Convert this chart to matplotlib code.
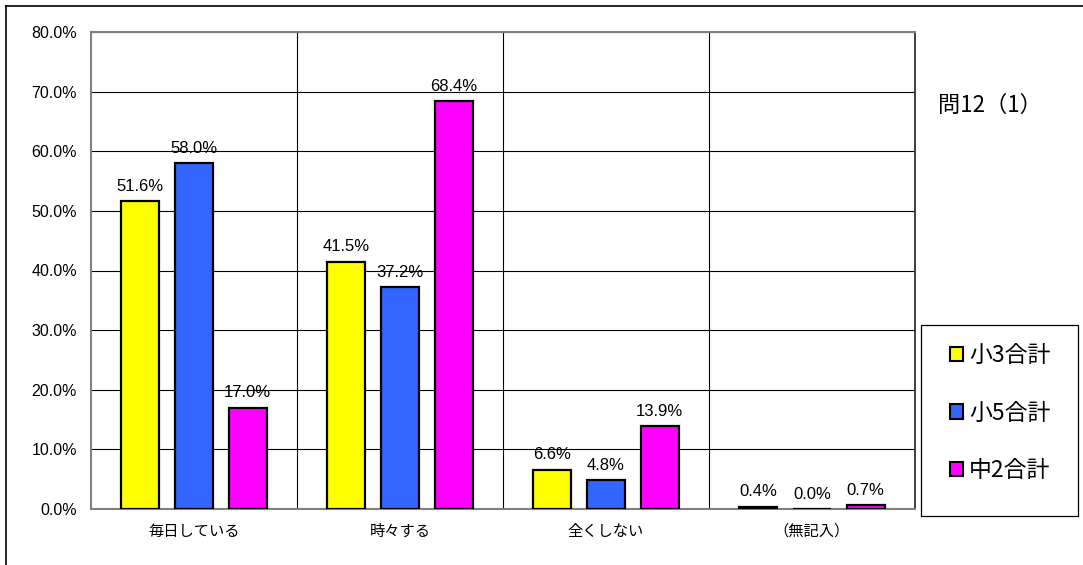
import numpy as np
import matplotlib.pyplot as plt
from matplotlib.patches import Rectangle
from matplotlib.lines import Line2D

plt.rcParams['font.family'] = ['Noto Sans CJK JP', 'DejaVu Sans']

categories = ['毎日している', '時々する', '全くしない', '（無記入）']
series_names = ['小3合計', '小5合計', '中2合計']
values_g3 = [51.6, 41.5, 6.6, 0.4]
values_g5 = [58.0, 37.2, 4.8, 0.0]
values_m2 = [17.0, 68.4, 13.9, 0.7]
colors = ['#ffff00', '#3366ff', '#ff00ff']
y_ticks = [0, 10, 20, 30, 40, 50, 60, 70, 80]

W, H = 1083, 565
fig = plt.figure(figsize=(W / 100, H / 100), dpi=100)
ax = fig.add_axes([91 / W, 56 / H, 824 / W, 477 / H])

x = np.arange(len(categories))
width = 0.185
offsets = [-0.26, 0.0, 0.26]
all_vals = [values_g3, values_g5, values_m2]
num_font = ['Liberation Sans', 'DejaVu Sans']

for vals, off, col, name in zip(all_vals, offsets, colors, series_names):
    ax.bar(x + off, vals, width, color=col, edgecolor='black', linewidth=1.6,
           label=name, zorder=3)
    for xi, v in zip(x + off, vals):
        ax.text(xi, v + 1.2, f'{v:.1f}%', ha='center', va='bottom', fontsize=12,
                family=num_font, zorder=4)

ax.set_xlim(-0.5, 3.5)
ax.set_ylim(0, 80)
ax.set_yticks(y_ticks)
ax.set_yticklabels([f'{t:.1f}%' for t in y_ticks], fontsize=11.5, family=num_font)
ax.set_xticks(x)
ax.set_xticklabels(categories, fontsize=11)
ax.tick_params(axis='y', length=0, pad=10)
ax.tick_params(axis='x', length=0, pad=10)

for t in y_ticks[1:]:
    ax.axhline(t, color='black', linewidth=0.8, zorder=1)
for b in [0.5, 1.5, 2.5]:
    ax.axvline(b, color='black', linewidth=0.8, zorder=1)

for side in ['left', 'bottom', 'top']:
    ax.spines[side].set_color('#808080')
    ax.spines[side].set_linewidth(1.5)
ax.spines['right'].set_color('#303030')
ax.spines['right'].set_linewidth(1.3)

# legend box with fixed frame
fig.patches.append(Rectangle((921 / W, 1 - 516 / H), 157 / W, 191 / H,
                             transform=fig.transFigure, facecolor='white',
                             edgecolor='black', linewidth=0.9))
handles = [Rectangle((0, 0), 1, 1, facecolor=c, edgecolor='black', linewidth=1.5)
           for c in colors]
leg = fig.legend(handles, series_names, loc='center',
                 bbox_to_anchor=(1000 / W, 1 - 413 / H),
                 fontsize=16.5, frameon=False,
                 handlelength=0.6, handleheight=0.6, handletextpad=0.25,
                 labelspacing=1.5, borderaxespad=0)

fig.text(990 / W, 1 - 105 / H, '問12（1）', fontsize=16, ha='center', va='center')

# outer frame (only top and left edges visible in the crop)
fig.lines.append(Line2D([6 / W, 6 / W], [0, 1 - 6 / H], transform=fig.transFigure,
                        color='black', linewidth=1.2))
fig.lines.append(Line2D([6 / W, 1], [1 - 6 / H, 1 - 6 / H], transform=fig.transFigure,
                        color='black', linewidth=1.2))

fig.savefig('out.png', dpi=100)
